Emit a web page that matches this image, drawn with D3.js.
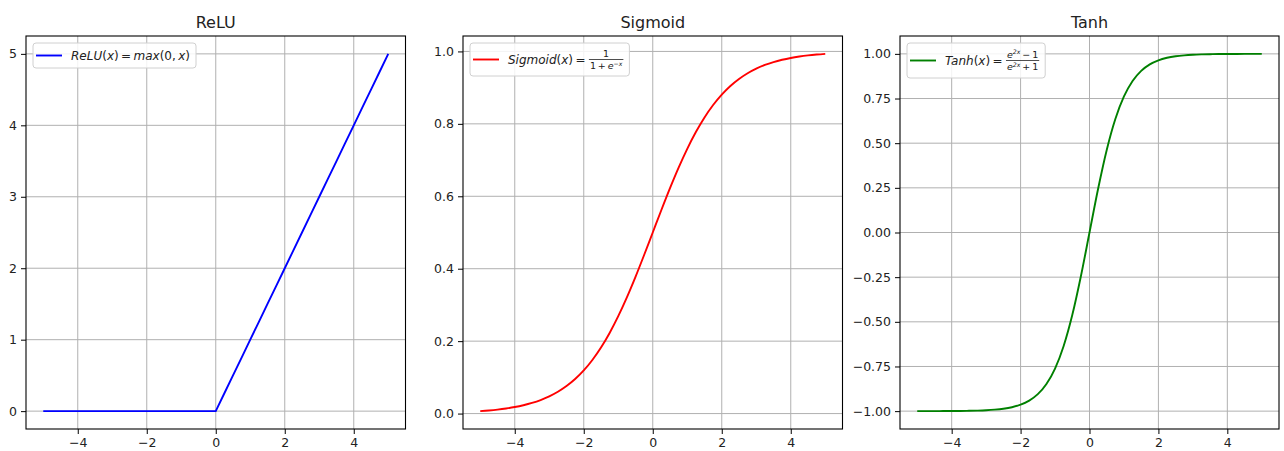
<!DOCTYPE html>
<html>
<head>
<meta charset="utf-8">
<script src="https://cdn.jsdelivr.net/npm/d3@7"></script>
<style>
  body { margin: 0; background: #fff; }
  svg { display: block; font-family: "DejaVu Sans", sans-serif; }
</style>
</head>
<body>
<div id="chart"></div>
<script>
// sample points
const xs = [-5, -4.75, -4.5, -4.25, -4, -3.75, -3.5, -3.25, -3, -2.75, -2.5, -2.25, -2, -1.75, -1.5, -1.25, -1, -0.75, -0.5, -0.25,
  0, 0.25, 0.5, 0.75, 1, 1.25, 1.5, 1.75, 2, 2.25, 2.5, 2.75, 3, 3.25, 3.5, 3.75, 4, 4.25, 4.5, 4.75, 5];
const reluY = [0, 0, 0, 0, 0, 0, 0, 0, 0, 0, 0, 0, 0, 0, 0, 0, 0, 0, 0, 0,
  0, 0.25, 0.5, 0.75, 1, 1.25, 1.5, 1.75, 2, 2.25, 2.5, 2.75, 3, 3.25, 3.5, 3.75, 4, 4.25, 4.5, 4.75, 5];
const sigmoidY = [0.0067, 0.0086, 0.0110, 0.0141, 0.0180, 0.0230, 0.0293, 0.0373, 0.0474, 0.0601, 0.0759, 0.0953, 0.1192, 0.1480, 0.1824, 0.2227, 0.2689, 0.3208, 0.3775, 0.4378,
  0.5, 0.5622, 0.6225, 0.6792, 0.7311, 0.7773, 0.8176, 0.8520, 0.8808, 0.9047, 0.9241, 0.9399, 0.9526, 0.9627, 0.9707, 0.9770, 0.9820, 0.9859, 0.9890, 0.9914, 0.9933];
const tanhY = [-0.9999, -0.9999, -0.9998, -0.9996, -0.9993, -0.9989, -0.9982, -0.9970, -0.9951, -0.9918, -0.9866, -0.9780, -0.9640, -0.9414, -0.9051, -0.8483, -0.7616, -0.6351, -0.4621, -0.2449,
  0, 0.2449, 0.4621, 0.6351, 0.7616, 0.8483, 0.9051, 0.9414, 0.9640, 0.9780, 0.9866, 0.9918, 0.9951, 0.9970, 0.9982, 0.9989, 0.9993, 0.9996, 0.9998, 0.9999, 0.9999];

const xTicks = [-4, -2, 0, 2, 4];
const reluTicks = [0, 1, 2, 3, 4, 5];
const sigmoidTicks = [0, 0.2, 0.4, 0.6, 0.8, 1.0];
const tanhTicks = [-1, -0.75, -0.5, -0.25, 0, 0.25, 0.5, 0.75, 1];

const width = 1284;
const height = 451;
const plotTop = 36, plotBottom = 429;

const svg = d3.select('#chart').append('svg')
  .attr('width', width)
  .attr('height', height)
  .attr('viewBox', [0, 0, width, height]);

const it = t => ({ t, i: true });
const up = t => ({ t, i: false });
const th = '\u2009';

const panels = [
  {
    title: 'ReLU', ys: reluY, color: '#0000ff', left: 26, right: 405.5,
    ydom: [-0.25, 5.25], ticks: reluTicks, fmt: d3.format('d'),
    label: [it('ReLU'), up('('), it('x'), up(')' + th + '=' + th), it('max'), up('(0,' + th), it('x'), up(')')],
    frac: null, legendH: 25
  },
  {
    title: 'Sigmoid', ys: sigmoidY, color: '#ff0000', left: 463, right: 842.5,
    ydom: [-0.0426, 1.0426], ticks: sigmoidTicks, fmt: d3.format('.1f'),
    label: [it('Sigmoid'), up('('), it('x'), up(')' + th + '=' + th)],
    frac: { num: [up('1')], den: [up('1' + th + '+' + th), it('e'), { t: '−x', i: true, sup: true }] }, legendH: 33
  },
  {
    title: 'Tanh', ys: tanhY, color: '#008000', left: 900, right: 1279,
    ydom: [-1.1, 1.1], ticks: tanhTicks, fmt: d3.format('.2f'),
    label: [it('Tanh'), up('('), it('x'), up(')' + th + '=' + th)],
    frac: {
      num: [it('e'), { t: '2x', i: true, sup: true }, up(th + '−' + th + '1')],
      den: [it('e'), { t: '2x', i: true, sup: true }, up(th + '+' + th + '1')]
    }, legendH: 35
  }
];

function addParts (text, parts, size) {
  parts.forEach((p, k) => {
    const ts = text.append('tspan')
      .attr('font-style', p.i ? 'italic' : 'normal')
      .text(p.t);
    if (p.sup) {
      ts.attr('font-size', size * 0.65).attr('dy', -size * 0.35);
    } else if (k > 0 && parts[k - 1].sup) {
      ts.attr('dy', size * 0.35);
    }
  });
}

panels.forEach(p => {
  const x = d3.scaleLinear().domain([-5.5, 5.5]).range([p.left, p.right]);
  const y = d3.scaleLinear().domain(p.ydom).range([plotBottom, plotTop]);
  const g = svg.append('g');

  // grid
  g.append('g').selectAll('line').data(xTicks).enter().append('line')
    .attr('x1', d => x(d)).attr('x2', d => x(d))
    .attr('y1', plotTop).attr('y2', plotBottom)
    .attr('stroke', '#b0b0b0').attr('stroke-width', 1);
  g.append('g').selectAll('line').data(p.ticks).enter().append('line')
    .attr('y1', d => y(d)).attr('y2', d => y(d))
    .attr('x1', p.left).attr('x2', p.right)
    .attr('stroke', '#b0b0b0').attr('stroke-width', 1);

  // curve
  const line = d3.line()
    .x((d, i) => x(xs[i]))
    .y(d => y(d))
    .curve(p.title === 'ReLU' ? d3.curveLinear : d3.curveMonotoneX);
  g.append('path')
    .datum(p.ys)
    .attr('d', line)
    .attr('fill', 'none')
    .attr('stroke', p.color)
    .attr('stroke-width', 1.9);

  // axes
  g.append('g')
    .attr('transform', `translate(0,${plotBottom})`)
    .call(d3.axisBottom(x).tickValues(xTicks).tickSize(5).tickPadding(4))
    .attr('font-size', 12.5)
    .attr('font-family', 'DejaVu Sans')
    .call(a => a.select('.domain').remove())
    .selectAll('text').attr('fill', '#222');
  g.append('g')
    .attr('transform', `translate(${p.left},0)`)
    .call(d3.axisLeft(y).tickValues(p.ticks).tickFormat(p.fmt).tickSize(5).tickPadding(4))
    .attr('font-size', 12.5)
    .attr('font-family', 'DejaVu Sans')
    .call(a => a.select('.domain').remove())
    .selectAll('text').attr('fill', '#222');

  g.append('rect')
    .attr('x', p.left).attr('y', plotTop)
    .attr('width', p.right - p.left).attr('height', plotBottom - plotTop)
    .attr('fill', 'none').attr('stroke', '#000').attr('stroke-width', 1.1);

  // title
  g.append('text')
    .attr('x', (p.left + p.right) / 2).attr('y', 28)
    .attr('text-anchor', 'middle')
    .attr('font-size', 16)
    .attr('fill', '#222')
    .text(p.title);

  // legend
  const fs = 12;
  const lg = g.append('g');
  const lx = p.left + 7, ly = plotTop + 7;
  const box = lg.append('rect')
    .attr('x', lx).attr('y', ly)
    .attr('height', p.legendH)
    .attr('rx', 3)
    .attr('fill', '#fff').attr('fill-opacity', 0.85)
    .attr('stroke', '#d0d0d0');
  const cy = ly + p.legendH / 2;
  lg.append('line')
    .attr('x1', lx + 3).attr('x2', lx + 29)
    .attr('y1', cy).attr('y2', cy)
    .attr('stroke', p.color).attr('stroke-width', 1.9);
  const txt = lg.append('text')
    .attr('x', lx + 38).attr('y', cy + fs * 0.36)
    .attr('font-size', fs).attr('fill', '#222');
  addParts(txt, p.label, fs);
  let endX = lx + 38 + txt.node().getComputedTextLength();
  if (p.frac) {
    const fsz = 9.5;
    const num = lg.append('text').attr('font-size', fsz).attr('fill', '#222')
      .attr('text-anchor', 'middle').attr('y', cy - 3);
    addParts(num, p.frac.num, fsz);
    const den = lg.append('text').attr('font-size', fsz).attr('fill', '#222')
      .attr('text-anchor', 'middle').attr('y', cy + 9.5);
    addParts(den, p.frac.den, fsz);
    const w = Math.max(num.node().getComputedTextLength(), den.node().getComputedTextLength()) + 2;
    const cx = endX + 1 + w / 2;
    num.attr('x', cx);
    den.attr('x', cx);
    lg.append('line')
      .attr('x1', endX + 1).attr('x2', endX + 1 + w)
      .attr('y1', cy).attr('y2', cy)
      .attr('stroke', '#222').attr('stroke-width', 0.8);
    endX += w + 1;
  }
  box.attr('width', endX - lx + 6);
});
</script>
</body>
</html>
